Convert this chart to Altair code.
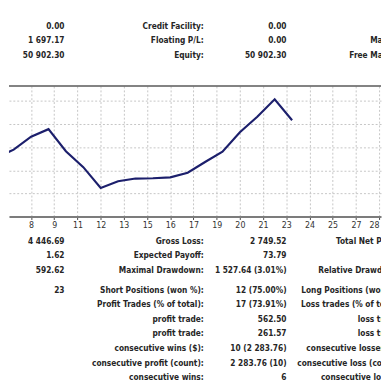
import altair as alt
import pandas as pd

# ---------------- data ----------------
trades = [6, 7, 8, 9, 10, 11, 12, 13, 14, 15, 16, 17, 18, 19, 20, 21, 22, 23]
balance = [49934, 50139, 50476, 50671, 50096, 49684, 49143, 49319, 49387,
           49395, 49418, 49539, 49818, 50083, 50590, 50995, 51446, 50902.30]
x_ticks = [6.67, 8, 9.33, 10.67, 12, 13.33, 14.67, 16, 17.33, 18.67, 20,
           21.33, 22.67, 24, 25.33, 26.67, 28]
y_grid = [49000, 49600, 50200, 50800, 51400]

top_val1 = ["0.00", "1 697.17", "50 902.30"]
top_lab2 = ["Credit Facility:", "Floating P/L:", "Equity:"]
top_val2 = ["0.00", "0.00", "50 902.30"]
top_lab3 = ["", "Margin:", "Free Margin:"]

bot_val1 = ["4 446.69", "1.62", "592.62", "23", "", "", "", "", "", ""]
bot_lab2 = ["Gross Loss:", "Expected Payoff:", "Maximal Drawdown:",
            "Short Positions (won %):", "Profit Trades (% of total):",
            "profit trade:", "profit trade:", "consecutive wins ($):",
            "consecutive profit (count):", "consecutive wins:"]
bot_val2 = ["2 749.52", "73.79", "1 527.64 (3.01%)", "12 (75.00%)",
            "17 (73.91%)", "562.50", "261.57", "10 (2 283.76)",
            "2 283.76 (10)", "6"]
bot_lab3 = ["Total Net Profit:", "", "Relative Drawdown:",
            "Long Positions (won %):", "Loss trades (% of total):",
            "loss trade:", "loss trade:", "consecutive losses ($):",
            "consecutive loss (count):", "consecutive losses:"]

# ---------------- layout / style ----------------
W = 382
FONT = "Tahoma, 'DejaVu Sans Condensed', 'DejaVu Sans'"
TXT = "#262626"
PITCH = 15
X_VAL1, X_LAB2, X_VAL2, X_LAB3 = 57, 200, 285, 404


def table(columns, height, first_px, gap_after=None):
    n = len(columns[0][0])
    pos = [r + (1 / 3 if gap_after is not None and r >= gap_after else 0)
           for r in range(n)]
    pmin = -first_px / PITCH
    pmax = (height - first_px) / PITCH
    layers = []
    for texts, xa in columns:
        df = pd.DataFrame({"pos": pos, "text": texts})
        layers.append(
            alt.Chart(df).mark_text(align="right", baseline="middle", font=FONT,
                                    fontSize=8.5, fontWeight="bold", color=TXT,
                                    clip=True).encode(
                x=alt.value(xa),
                y=alt.Y("pos:Q", scale=alt.Scale(domain=[pmin, pmax], reverse=True,
                                                 nice=False, zero=False), axis=None),
                text="text:N",
            )
        )
    return alt.layer(*layers).properties(width=W, height=height)


top = table([(top_val1, X_VAL1), (top_lab2, X_LAB2), (top_val2, X_VAL2),
             (top_lab3, X_LAB3)], 75, 13)
bottom = table([(bot_val1, X_VAL1), (bot_lab2, X_LAB2), (bot_val2, X_VAL2),
                (bot_lab3, X_LAB3)], 173, 25, gap_after=3)

df = pd.DataFrame({"trade": trades, "balance": balance})
xscale = alt.Scale(domain=[6.729, 28.112], nice=False, zero=False)
yscale = alt.Scale(domain=[48400, 51792], nice=False, zero=False)
GRID = "#c4c4c4"

line = alt.Chart(df).mark_line(color="#1c1f6c", strokeWidth=2.2, clip=True).encode(
    x=alt.X("trade:Q", scale=xscale, axis=alt.Axis(
        values=x_ticks, labelExpr="format(round(datum.value), 'd')", title=None,
        grid=True, gridColor=GRID, gridDash=[2, 2], gridWidth=1,
        domainColor="#7c7c7c", domainWidth=2, tickColor="#444", tickSize=3,
        labelFontSize=9, labelColor="#333", labelFont=FONT, labelPadding=1,
        labelFlush=False,
        labelAlign={"condition": {"test": "datum.value > 27.9", "value": "right"},
                    "value": "center"})),
    y=alt.Y("balance:Q", scale=yscale, axis=alt.Axis(
        values=y_grid, labels=False, ticks=False, domain=False, title=None,
        grid=True, gridColor=GRID, gridDash=[2, 2], gridWidth=1)),
)
frame = alt.Chart(pd.DataFrame({"k": [0]})).mark_rule(
    color="#5a5a5a", strokeWidth=1.5).encode(
    y=alt.value(0), x=alt.value(0), x2=alt.value(W))

middle = alt.layer(line, frame).properties(width=W, height=134)

chart = alt.vconcat(top, middle, bottom, spacing=0, bounds="flush").properties(
    padding=0, background="white"
).configure_view(stroke=None)

chart.save("out.html", embed_options={"renderer": "svg", "actions": False})
